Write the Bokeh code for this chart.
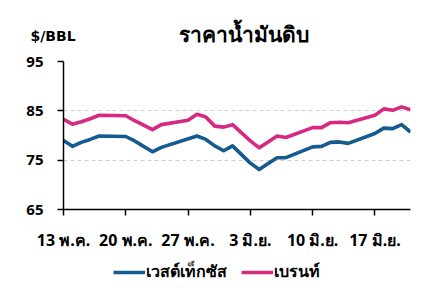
import pandas as pd
from bokeh.plotting import figure
from bokeh.layouts import column
from bokeh.models import (ColumnDataSource, FixedTicker, Legend, LegendItem, Range1d)
from bokeh.core.properties import value
from bokeh.embed import file_html
from bokeh.resources import INLINE

# ---- data ----
dates = ["2024-05-13", "2024-05-14", "2024-05-15", "2024-05-16", "2024-05-17",
         "2024-05-20", "2024-05-21", "2024-05-22", "2024-05-23", "2024-05-24",
         "2024-05-27", "2024-05-28", "2024-05-29", "2024-05-30", "2024-05-31",
         "2024-06-01", "2024-06-03", "2024-06-04", "2024-06-05", "2024-06-06",
         "2024-06-07", "2024-06-10", "2024-06-11", "2024-06-12", "2024-06-13",
         "2024-06-14", "2024-06-17", "2024-06-18", "2024-06-19", "2024-06-20",
         "2024-06-21"]
wti = [79.0, 77.8, 78.6, 79.2, 79.9,
       79.8, 78.9, 77.8, 76.7, 77.6,
       None, 79.9, 79.2, 77.9, 76.9,
       77.9, 74.4, 73.1, 74.3, 75.5,
       75.5, 77.7, 77.8, 78.6, 78.7,
       78.4, 80.4, 81.5, 81.4, 82.2,
       80.7]
brent = [83.3, 82.3, 82.8, 83.4, 84.1,
         84.0, 83.0, 82.1, 81.2, 82.2,
         83.1, 84.3, 83.75, 81.9, 81.7,
         82.2, 78.9, 77.5, 78.7, 79.9,
         79.6, 81.6, 81.6, 82.6, 82.7,
         82.6, 84.1, 85.4, 85.1, 85.8,
         85.2]
series_names = ["เวสต์เท็กซัส", "เบรนท์"]
tick_dates = ["2024-05-13", "2024-05-20", "2024-05-27", "2024-06-03", "2024-06-10", "2024-06-17"]
tick_labels = ["13 พ.ค.", "20 พ.ค.", "27 พ.ค.", "3 มิ.ย.", "10 มิ.ย.", "17 มิ.ย."]
y_ticks = [65, 75, 85, 95]
title_text = "ราคาน้ำมันดิบ"
unit_text = "$/BBL"

BLUE = "#145b8e"
PINK = "#d62a82"
FONT = "Noto Sans"
W = 444
TOP_H = 48
FOOT_H = 30
MAIN_H = 288 - TOP_H - FOOT_H

def src(vals):
    d = [pd.Timestamp(t) for t, v in zip(dates, vals) if v is not None]
    v = [v for v in vals if v is not None]
    return ColumnDataSource(dict(x=d, y=v))

def strip(h):
    f = figure(width=W, height=h, x_range=Range1d(0, W), y_range=Range1d(0, h),
               output_backend="svg", toolbar_location=None,
               min_border_left=0, min_border_right=0,
               min_border_top=0, min_border_bottom=0)
    f.axis.visible = False
    f.grid.visible = False
    f.outline_line_color = None
    f.border_fill_color = "white"
    f.background_fill_color = "white"
    return f

# ---- header strip with the title and unit ----
head = strip(TOP_H)
head.text(x=[243], y=[TOP_H - 33], text=[title_text], text_align="center",
          text_baseline="middle", text_font=value(FONT), text_font_style="bold",
          text_font_size="21px", text_color="black")
head.text(x=[30], y=[TOP_H - 35], text=[unit_text], text_align="left",
          text_baseline="middle", text_font=value("DejaVu Sans"), text_font_style="bold",
          text_font_size="14px", text_color="black")

# ---- main chart ----
x0 = pd.Timestamp(dates[0])
x1 = pd.Timestamp(dates[-1])

p = figure(width=W, height=MAIN_H, x_axis_type="datetime",
           x_range=Range1d(x0, x1), y_range=Range1d(65, 95),
           output_backend="svg", toolbar_location=None,
           min_border_left=63, min_border_right=34,
           min_border_top=61 - TOP_H, min_border_bottom=MAIN_H - (209 - TOP_H))
p.outline_line_color = None
p.background_fill_color = "white"
p.border_fill_color = "white"

p.line("x", "y", source=src(wti), line_color=BLUE, line_width=3.6, line_join="round")
p.line("x", "y", source=src(brent), line_color=PINK, line_width=3.6, line_join="round")

ms = [pd.Timestamp(t).value // 10**6 for t in tick_dates]
p.xaxis.ticker = FixedTicker(ticks=ms)
p.xaxis.major_label_overrides = {m: l for m, l in zip(ms, tick_labels)}
p.yaxis.ticker = FixedTicker(ticks=y_ticks)
for ax in (p.xaxis[0], p.yaxis[0]):
    ax.axis_line_color = "black"
    ax.axis_line_width = 1.5
    ax.major_tick_line_color = "black"
    ax.major_tick_line_width = 1.5
    ax.major_tick_out = 6
    ax.major_tick_in = 0
    ax.minor_tick_line_color = None
    ax.major_label_text_font = FONT
    ax.major_label_text_font_style = "bold"
    ax.major_label_text_color = "black"
p.xaxis.major_label_text_font_size = "16px"
p.yaxis.major_label_text_font_size = "15px"
p.xaxis.major_label_standoff = 13
p.yaxis.major_label_standoff = 14

p.xgrid.grid_line_color = None
p.ygrid.grid_line_color = "#cfcfcf"
p.ygrid.grid_line_dash = "4 3"
p.ygrid.grid_line_width = 1

# ---- footer strip with the legend ----
foot = strip(FOOT_H)
k1 = foot.line(x=[-50, -40], y=[-50, -50], line_color=BLUE, line_width=3.6)
k2 = foot.line(x=[-50, -40], y=[-50, -50], line_color=PINK, line_width=3.6)
legend = Legend(items=[LegendItem(label=series_names[0], renderers=[k1]),
                       LegendItem(label=series_names[1], renderers=[k2])],
                orientation="horizontal", location=(113, 4),
                glyph_width=32, glyph_height=16, label_standoff=1, spacing=14,
                padding=0, margin=0, border_line_color=None, background_fill_alpha=0,
                label_text_font=FONT, label_text_font_style="bold",
                label_text_font_size="16px", label_text_color="black")
foot.add_layout(legend, "center")

layout = column(column(head), p, column(foot), spacing=0)
open("out.html", "w").write(file_html(layout, INLINE))
